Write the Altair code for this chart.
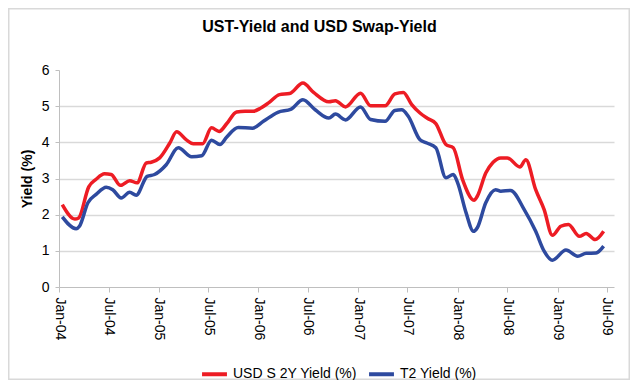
import altair as alt
import pandas as pd

# Readings (date, value) for each series
usd_dates = [
    "2004-01-13", "2004-02-28", "2004-03-13", "2004-04-19", "2004-05-16", "2004-06-16",
    "2004-07-10", "2004-08-13", "2004-09-16", "2004-10-13", "2004-11-16", "2004-12-04",
    "2005-01-04", "2005-02-10", "2005-03-07", "2005-04-13", "2005-05-07", "2005-06-10",
    "2005-07-13", "2005-08-10", "2005-09-07", "2005-10-13", "2005-11-13", "2005-12-13",
    "2006-01-10", "2006-02-07", "2006-03-19", "2006-04-25", "2006-06-13", "2006-07-22",
    "2006-09-16", "2006-10-10", "2006-11-16", "2007-01-10", "2007-02-16", "2007-04-10",
    "2007-05-16", "2007-06-16", "2007-07-16", "2007-08-16", "2007-09-13", "2007-10-13",
    "2007-11-19", "2007-12-16", "2008-01-19", "2008-03-01", "2008-03-13", "2008-04-13",
    "2008-05-10", "2008-06-07", "2008-07-01", "2008-08-16", "2008-09-07", "2008-10-13",
    "2008-11-13", "2008-12-13", "2009-01-13", "2009-02-10", "2009-03-22", "2009-04-16",
    "2009-05-19", "2009-06-19",
]
usd_swap_2y = [
    2.28, 1.88, 1.91, 2.77, 2.98, 3.13,
    3.11, 2.81, 2.94, 2.88, 3.43, 3.45,
    3.57, 3.98, 4.29, 4.06, 3.96, 3.96,
    4.40, 4.30, 4.52, 4.84, 4.86, 4.86,
    4.95, 5.09, 5.32, 5.35, 5.64, 5.38,
    5.12, 5.15, 4.98, 5.36, 5.01, 5.01,
    5.34, 5.38, 5.05, 4.81, 4.66, 4.52,
    3.94, 3.85, 2.97, 2.40, 2.51, 3.15,
    3.45, 3.57, 3.57, 3.32, 3.52, 2.69,
    2.14, 1.43, 1.68, 1.73, 1.40, 1.48,
    1.31, 1.54,
]
t2_dates = [
    "2004-01-13", "2004-03-04", "2004-03-16", "2004-04-16", "2004-05-16", "2004-06-22",
    "2004-07-16", "2004-08-16", "2004-09-16", "2004-10-10", "2004-11-19", "2004-12-16",
    "2005-01-28", "2005-03-13", "2005-05-01", "2005-06-07", "2005-07-13", "2005-08-13",
    "2005-09-07", "2005-10-19", "2005-12-10", "2006-01-19", "2006-03-13", "2006-05-01",
    "2006-06-13", "2006-07-28", "2006-09-16", "2006-10-10", "2006-11-16", "2007-01-10",
    "2007-02-16", "2007-04-10", "2007-05-16", "2007-06-10", "2007-07-04", "2007-08-16",
    "2007-09-10", "2007-10-13", "2007-11-19", "2007-12-16", "2008-01-01", "2008-02-01",
    "2008-02-28", "2008-03-13", "2008-04-13", "2008-05-19", "2008-06-07", "2008-07-13",
    "2008-09-01", "2008-10-13", "2008-11-13", "2008-12-13", "2009-02-01", "2009-03-16",
    "2009-04-16", "2009-05-22", "2009-06-19",
]
t2_yield = [
    1.94, 1.61, 1.68, 2.33, 2.56, 2.76,
    2.69, 2.46, 2.62, 2.54, 3.06, 3.11,
    3.38, 3.85, 3.60, 3.63, 4.06, 3.94,
    4.15, 4.41, 4.39, 4.58, 4.83, 4.92,
    5.18, 4.90, 4.67, 4.78, 4.62, 4.98,
    4.63, 4.58, 4.88, 4.90, 4.72, 4.07,
    3.98, 3.85, 3.02, 3.11, 2.88, 2.05,
    1.54, 1.64, 2.33, 2.69, 2.65, 2.67,
    2.14, 1.54, 0.99, 0.74, 1.02, 0.85,
    0.93, 0.94, 1.13,
]
series_names = ["USD S 2Y Yield (%)", "T2 Yield (%)"]
series_colors = ["#ED1C24", "#2E4A9F"]
y_ticks = [0, 1, 2, 3, 4, 5, 6]
x_tick_dates = [(y, m) for y in range(2004, 2010) for m in (1, 7)]
chart_title = "UST-Yield and USD Swap-Yield"

long = pd.concat([
    pd.DataFrame({"date": usd_dates, "yield": usd_swap_2y, "series": series_names[0]}),
    pd.DataFrame({"date": t2_dates, "yield": t2_yield, "series": series_names[1]}),
], ignore_index=True)

FONT = "Liberation Sans"
W, H = 555, 217
PL, PT = 51, 62
PR, PB = 622 - PL - W, 372 - PT - H

x_vals = [alt.DateTime(year=y, month=m, date=1, utc=True) for y, m in x_tick_dates]

lines = alt.Chart(long).mark_line(strokeWidth=3.5, interpolate="monotone").encode(
    x=alt.X(
        "date:T",
        scale=alt.Scale(
            type="utc",
            domain=[alt.DateTime(year=2004, month=1, date=1, utc=True),
                    alt.DateTime(year=2009, month=7, date=27, utc=True)],
        ),
        axis=alt.Axis(
            values=x_vals, labelExpr="utcFormat(datum.value, '%b-%y')",
            labelAngle=90, labelFontSize=14, labelFont=FONT,
            labelColor="#000000", labelPadding=5, tickSize=5,
            tickColor="#bfbfbf", domainColor="#bfbfbf", grid=False, title=None,
        ),
    ),
    y=alt.Y(
        "yield:Q",
        scale=alt.Scale(domain=[0, 6], nice=False),
        axis=alt.Axis(
            values=y_ticks, title="Yield (%)", titleFont=FONT, titleFontSize=14,
            titleFontWeight="bold", titleColor="#000000", titlePadding=7,
            labelFont=FONT, labelFontSize=14, labelColor="#000000",
            labelPadding=6, tickSize=4, tickColor="#bfbfbf",
            domainColor="#bfbfbf", grid=True, gridColor="#d9d9d9",
            gridWidth=1.5,
            gridOpacity={"expr": "datum.value > 0 && datum.value < 6 ? 1 : 0"},
        ),
    ),
    color=alt.Color(
        "series:N",
        scale=alt.Scale(domain=series_names, range=series_colors),
        sort=series_names,
        legend=alt.Legend(
            orient="none", legendX=141, legendY=289.5, direction="horizontal",
            title=None, symbolType="stroke", symbolSize=620,
            symbolStrokeWidth=4, labelFont=FONT, labelFontSize=14,
            labelColor="#000000", labelOffset=4, columnPadding=4, padding=0,
        ),
    ),
)

one = pd.DataFrame({"k": [0]})

border = alt.Chart(one).mark_rect(
    fill="transparent", stroke="#d9d9d9", strokeWidth=1.5
).encode(
    x=alt.value(-PL + 0.75), x2=alt.value(W + PR - 0.75),
    y=alt.value(-PT + 0.75), y2=alt.value(H + PB - 0.75),
)

title = alt.Chart(one).mark_text(
    font=FONT, fontSize=16, fontWeight="bold", color="#000000",
    align="center", baseline="alphabetic",
).encode(
    x=alt.value(W / 2 - 17), y=alt.value(-38.5), text=alt.value(chart_title),
)

chart = alt.layer(border, lines, title).properties(
    width=W, height=H,
    autosize=alt.AutoSizeParams(type="none"),
    padding={"left": PL, "top": PT, "right": PR, "bottom": PB},
).configure_view(stroke=None)

chart.save("out.html", embed_options={"renderer": "svg", "actions": False})
